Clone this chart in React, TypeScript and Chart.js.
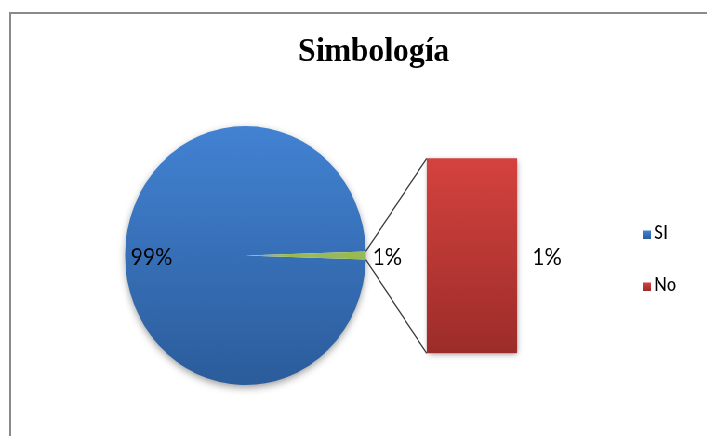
import React, { useEffect, useRef } from 'react';
import { Chart, registerables } from 'chart.js';

Chart.register(...registerables);

// ---------- data ----------
const TITLE = 'Simbología';
const categories = ['SI', 'No'];
const values = [99, 1];
const pieSlices = ['SI', 'Otro']; // second pie slice groups the categories shown in the bar
const barCategories = ['No'];
const barValues = [1];

// ---------- styles ----------
const SX = 0.93; // horizontal squash of the original picture
const W = 760;
const H = 436;
const LABEL_FONT = '23px Lato';
const LEGEND_FONT = '18.5px Lato';
const TITLE_FONT = 'bold 34px "Liberation Serif"';

const BLUE = ['rgb(66,130,210)', 'rgb(43,92,155)'];
const GREEN = ['rgb(172,204,100)', 'rgb(132,166,66)'];
const RED = ['rgb(212,66,62)', 'rgb(156,44,41)'];
const catColors: Record<string, string[]> = { SI: BLUE, No: RED };

function vGrad(ctx: CanvasRenderingContext2D, top: number, bottom: number, c: string[]) {
  const g = ctx.createLinearGradient(0, top, 0, bottom);
  g.addColorStop(0, c[0]);
  g.addColorStop(1, c[1]);
  return g;
}

export default function App() {
  const pieRef = useRef<HTMLCanvasElement>(null);
  const barRef = useRef<HTMLCanvasElement>(null);

  useEffect(() => {
    const total = values.reduce((a, b) => a + b, 0);
    const otherVal = barValues.reduce((a, b) => a + b, 0);
    const pieData = [values[0], otherVal];
    const pct = (v: number) => Math.round((v / total) * 100) + '%';

    const pieShadow = {
      id: 'pieShadow',
      beforeDatasetsDraw(chart: any) {
        const a: any = chart.getDatasetMeta(0).data[0];
        if (!a) return;
        const ctx = chart.ctx;
        ctx.save();
        ctx.shadowColor = 'rgba(0,0,0,0.45)';
        ctx.shadowBlur = 8;
        ctx.shadowOffsetY = 3;
        ctx.fillStyle = '#fff';
        ctx.beginPath();
        ctx.arc(a.x, a.y, a.outerRadius - 1, 0, Math.PI * 2);
        ctx.fill();
        ctx.restore();
      },
    };

    const pieLabels = {
      id: 'pieLabels',
      afterDatasetsDraw(chart: any) {
        const meta = chart.getDatasetMeta(0);
        const ctx = chart.ctx;
        ctx.save();
        ctx.font = LABEL_FONT;
        ctx.fillStyle = '#000';
        ctx.textBaseline = 'middle';
        meta.data.forEach((arc: any, i: number) => {
          const mid = (arc.startAngle + arc.endAngle) / 2;
          const v = chart.data.datasets[0].data[i];
          let r: number;
          if (i === 0) {
            r = arc.outerRadius * 0.78;
            ctx.textAlign = 'center';
          } else {
            r = arc.outerRadius + 7;
            ctx.textAlign = 'left';
          }
          ctx.fillText(pct(v), arc.x + Math.cos(mid) * r, arc.y + Math.sin(mid) * r + 2);
        });
        ctx.restore();
      },
    };

    const pie = new Chart(pieRef.current as HTMLCanvasElement, {
      type: 'pie',
      data: {
        labels: pieSlices,
        datasets: [
          {
            data: pieData,
            backgroundColor: (c: any) => {
              const ca = c.chart.chartArea;
              const cols = c.dataIndex === 0 ? BLUE : GREEN;
              if (!ca) return cols[0];
              return vGrad(c.chart.ctx, ca.top, ca.bottom, cols);
            },
            borderWidth: 0,
            hoverOffset: 0,
          },
        ],
      },
      options: {
        responsive: false,
        animation: false,
        events: [],
        rotation: 90 + (otherVal / total) * 180,
        layout: { padding: { left: 134.5, right: W - 393.5, top: 126, bottom: H - 385 } },
        plugins: { legend: { display: false }, tooltip: { enabled: false }, title: { display: false } },
      } as any,
      plugins: [pieShadow, pieLabels],
    });

    const barExtras = {
      id: 'barExtras',
      beforeDatasetsDraw(chart: any) {
        const bar: any = chart.getDatasetMeta(0).data[0];
        const arc: any = pie.getDatasetMeta(0).data[1];
        if (!bar) return;
        const ctx = chart.ctx;
        const left = bar.x - bar.width / 2;
        const top = Math.min(bar.y, bar.base);
        const bottom = Math.max(bar.y, bar.base);
        // shadow
        ctx.save();
        ctx.shadowColor = 'rgba(0,0,0,0.4)';
        ctx.shadowBlur = 6;
        ctx.shadowOffsetX = 1;
        ctx.shadowOffsetY = 2;
        ctx.fillStyle = '#fff';
        ctx.fillRect(left + 1, top + 1, bar.width - 2, bottom - top - 2);
        ctx.restore();
        // connector lines from the grouped pie slice to the bar
        if (arc) {
          const R = arc.outerRadius;
          const p1 = [arc.x + Math.cos(arc.startAngle) * R, arc.y + Math.sin(arc.startAngle) * R];
          const p2 = [arc.x + Math.cos(arc.endAngle) * R, arc.y + Math.sin(arc.endAngle) * R];
          ctx.save();
          ctx.strokeStyle = '#3a3a3a';
          ctx.lineWidth = 1.3;
          ctx.beginPath();
          ctx.moveTo(p1[0], p1[1]);
          ctx.lineTo(left, top);
          ctx.moveTo(p2[0], p2[1]);
          ctx.lineTo(left, bottom);
          ctx.stroke();
          ctx.restore();
        }
      },
      afterDatasetsDraw(chart: any) {
        const meta = chart.getDatasetMeta(0);
        const ctx = chart.ctx;
        ctx.save();
        ctx.font = LABEL_FONT;
        ctx.fillStyle = '#000';
        ctx.textBaseline = 'middle';
        ctx.textAlign = 'left';
        meta.data.forEach((bar: any, i: number) => {
          const v = chart.data.datasets[0].data[i];
          ctx.fillText(pct(v), bar.x + bar.width / 2 + 16, (bar.y + bar.base) / 2 + 2);
        });
        // title
        ctx.font = TITLE_FONT;
        ctx.textAlign = 'center';
        ctx.textBaseline = 'alphabetic';
        ctx.fillText(TITLE, 402, 61);
        // legend
        ctx.font = LEGEND_FONT;
        ctx.textAlign = 'left';
        categories.forEach((cat, i) => {
          const baseline = 239 + i * 52;
          const cols = catColors[cat];
          ctx.fillStyle = vGrad(ctx, baseline - 8.5, baseline, cols);
          ctx.fillRect(691, baseline - 8.5, 9, 8.5);
          ctx.fillStyle = '#000';
          ctx.fillText(cat, 703, baseline);
        });
        ctx.restore();
      },
    };

    const bar = new Chart(barRef.current as HTMLCanvasElement, {
      type: 'bar',
      data: {
        labels: barCategories,
        datasets: [
          {
            data: barValues,
            backgroundColor: (c: any) => {
              const ca = c.chart.chartArea;
              if (!ca) return RED[0];
              return vGrad(c.chart.ctx, ca.top, ca.bottom, RED);
            },
            borderWidth: 0,
            barPercentage: 1,
            categoryPercentage: 1,
          },
        ],
      },
      options: {
        responsive: false,
        animation: false,
        events: [],
        layout: { padding: { left: 458.8, right: W - 556.2, top: 158.3, bottom: H - 353.3 } },
        scales: {
          x: { display: false },
          y: { display: false, min: 0, max: otherVal },
        },
        plugins: { legend: { display: false }, tooltip: { enabled: false }, title: { display: false } },
      } as any,
      plugins: [barExtras],
    });

    return () => {
      bar.destroy();
      pie.destroy();
    };
  }, []);

  return (
    <div style={{ position: 'fixed', left: 0, top: 0, width: 707, height: 436, overflow: 'hidden', background: '#fff' }}>
      <div
        style={{
          position: 'absolute',
          left: 9,
          top: 12,
          width: 760,
          height: 460,
          border: '2px solid #8a8a8a',
          boxSizing: 'border-box',
        }}
      />
      <div style={{ position: 'absolute', left: 0, top: 0, width: W, height: H, transform: `scaleX(${SX})`, transformOrigin: '0 0' }}>
        <canvas ref={pieRef} width={W} height={H} style={{ position: 'absolute', left: 0, top: 0, width: W, height: H }} />
        <canvas ref={barRef} width={W} height={H} style={{ position: 'absolute', left: 0, top: 0, width: W, height: H }} />
      </div>
    </div>
  );
}
